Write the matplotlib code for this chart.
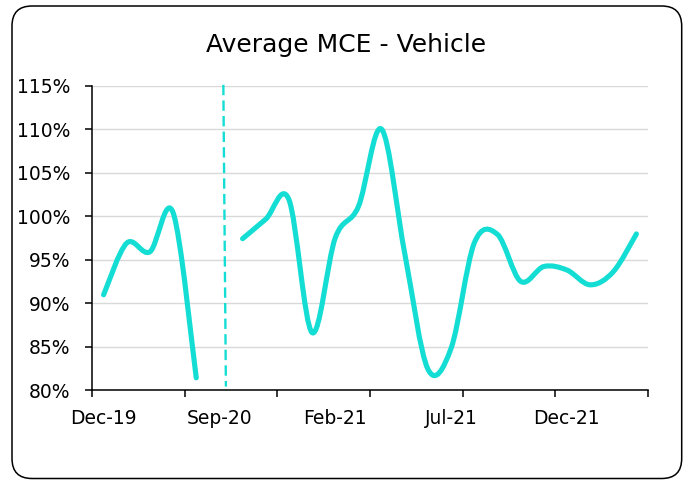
import numpy as np
import matplotlib
matplotlib.use("Agg")
import matplotlib.pyplot as plt
from matplotlib.path import Path
from matplotlib.patches import PathPatch, FancyBboxPatch
from matplotlib.ticker import FixedLocator, FuncFormatter

# ---- data ----
categories = ["Dec-19", "Jan-20", "Feb-20", "Mar-20", "Apr-20", "Sep-20",
              "Oct-20", "Nov-20", "Dec-20", "Jan-21", "Feb-21", "Mar-21",
              "Apr-21", "May-21", "Jun-21", "Jul-21", "Aug-21", "Sep-21",
              "Oct-21", "Nov-21", "Dec-21", "Jan-22", "Feb-22", "Mar-22"]
mce_values = [90.95, 96.9, 95.9, 100.4, 81.4, None,
              97.4, 99.65, 101.9, 86.6, 97.5, 101.1,
              110.0, 95.7, 82.4, 84.8, 96.9, 97.9,
              92.5, 94.2, 93.8, 92.1, 93.6, 97.95]
label_every = 5
tick_every = 4
y_ticks = [80, 85, 90, 95, 100, 105, 110, 115]
divider_x = [5.17, 5.28]
divider_y = [115.1, 80.4]

TITLE = "Average MCE - Vehicle"
LINE_COLOR = "#14DDD4"

fig = plt.figure(figsize=(6.89, 4.80), dpi=100)
ax = fig.add_axes([92/689, 1-390/480, (648-92)/689, (390-85.7)/480])

# smoothed line (Catmull-Rom style bezier like Excel "smoothed line")
def smooth_path(xs, ys):
    P = np.column_stack([xs, ys]).astype(float)
    n = len(P)
    verts = [P[0]]
    codes = [Path.MOVETO]
    for i in range(n - 1):
        p_prev = P[i - 1] if i > 0 else P[i]
        p_next2 = P[i + 2] if i + 2 < n else P[i + 1]
        c1 = P[i] + (P[i + 1] - p_prev) / 6.0
        c2 = P[i + 1] - (p_next2 - P[i]) / 6.0
        verts += [c1, c2, P[i + 1]]
        codes += [Path.CURVE4] * 3
    return Path(verts, codes)

# split into contiguous segments
segments = []
cur = []
for i, v in enumerate(mce_values):
    if v is None:
        if cur:
            segments.append(cur)
        cur = []
    else:
        cur.append((i, v))
if cur:
    segments.append(cur)

for seg in segments:
    xs = [p[0] for p in seg]
    ys = [p[1] for p in seg]
    patch = PathPatch(smooth_path(xs, ys), fill=False, edgecolor=LINE_COLOR,
                      linewidth=3.7, capstyle="round", joinstyle="round",
                      transform=ax.transData, zorder=3)
    ax.add_patch(patch)

# dashed divider
ax.plot(divider_x, divider_y, color=LINE_COLOR, linewidth=1.7,
        dashes=(4.4, 2.2), dash_capstyle="butt", zorder=3, clip_on=False)

ax.set_xlim(-0.5, len(categories) - 0.5)
ax.set_ylim(80, 115)

# y axis
ax.set_yticks(y_ticks)
ax.yaxis.set_major_formatter(FuncFormatter(lambda v, p: f"{int(round(v))}%"))
ax.tick_params(axis="y", length=5, width=1.1, direction="out", pad=10.5,
               labelsize=13.5, colors="black")
ax.grid(axis="y", color="#D9D9D9", linewidth=1.0, zorder=0)
ax.set_axisbelow(True)

# x axis: labels every 5 categories, tick marks every 4
label_pos = list(range(0, len(categories), label_every))
ax.set_xticks(label_pos)
ax.set_xticklabels([categories[i] for i in label_pos])
ax.xaxis.set_minor_locator(FixedLocator(
    [i - 0.5 for i in range(0, len(categories) + 1, tick_every)]))
ax.tick_params(axis="x", which="major", length=0, pad=14, labelsize=13.5,
               colors="black")
ax.tick_params(axis="x", which="minor", length=5, width=1.1, direction="out")

for s in ["top", "right"]:
    ax.spines[s].set_visible(False)
for s in ["left", "bottom"]:
    ax.spines[s].set_color("black")
    ax.spines[s].set_linewidth(1.1)

# title
fig.text(346/689, 1-52/480, TITLE, ha="center", va="baseline", fontsize=18,
         color="black")

# rounded frame
frame = FancyBboxPatch((0.12, 0.015), 6.817-0.12, 4.74-0.015,
                       boxstyle="round,pad=0,rounding_size=0.2",
                       transform=fig.dpi_scale_trans, fill=False,
                       edgecolor="black", linewidth=1.1)
fig.patches.append(frame)

fig.savefig("out.png", dpi=100)
